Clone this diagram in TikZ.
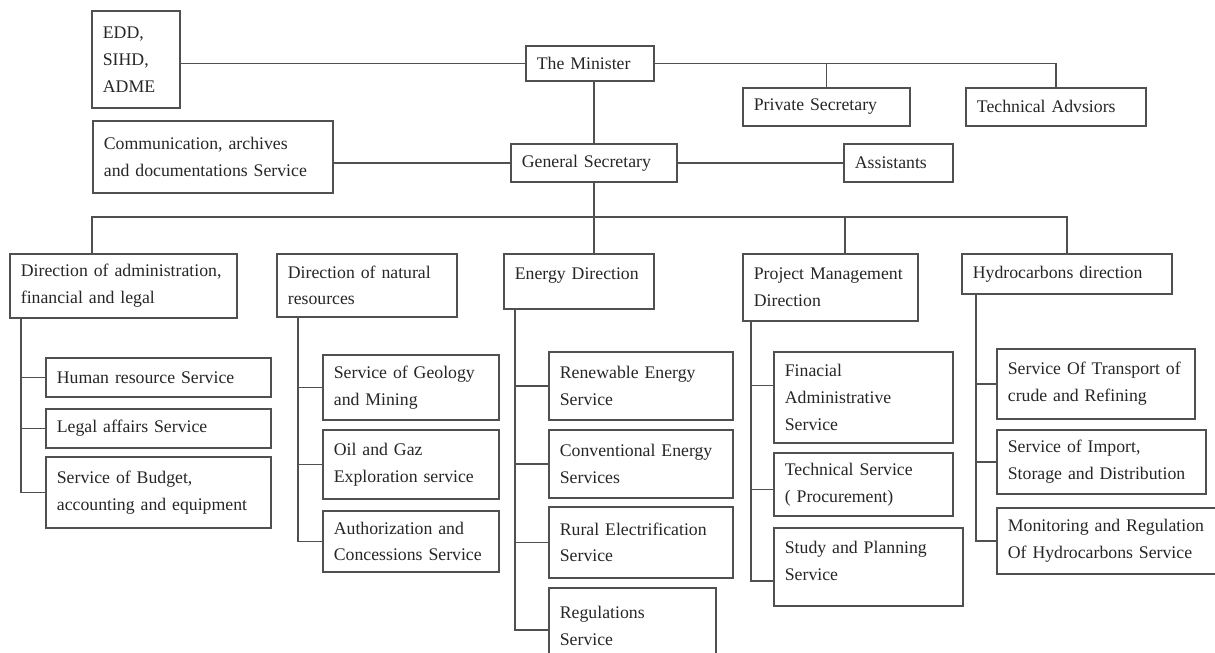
\documentclass[tikz,border=0pt]{standalone}
\usepackage{fontspec}
\setmainfont{Liberation Serif}
\usepackage{xcolor}
\definecolor{cLine}{HTML}{505050}
\definecolor{cText}{HTML}{262626}
\usetikzlibrary{calc}
\tikzset{
  org-box/.style 2 args={draw=cLine,line width=1pt,anchor=north west,
    inner xsep=0.22cm,inner ysep=0pt,align=left,text=cText,
    text width=#1*0.02cm-0.44cm,minimum height=#2*0.02cm,
    font=\fontsize{10.1}{15.3}\selectfont},
  org-line/.style={draw=cLine,line width=1pt},
}

\begin{document}
\begin{tikzpicture}[x=0.02cm,y=-0.02cm]
  \useasboundingbox (0,0) rectangle (1215,653);
  % minister and secretariat
  \node[org-box={88}{97}]   (edd)      at (91,10)   {EDD,\\SIHD,\\ADME};
  \node[org-box={128}{35}]  (minister) at (525,45)  {The Minister};
  \node[org-box={167}{38}]  (privsec)  at (742,87)  {Private Secretary};
  \node[org-box={180}{38}]  (techadv)  at (965,87)  {Technical Advsiors};
  \node[org-box={240}{72}]  (comm)     at (92,120)  {Communication, archives\\and documentations Service};
  \node[org-box={166}{38}]  (gensec)   at (510,143) {General Secretary};
  \node[org-box={109}{38}]  (assist)   at (843,143) {Assistants};
  % directions
  \node[org-box={227}{64}]  (diradm)   at (9,253)   {Direction of administration,\\financial and legal};
  \node[org-box={180}{63}]  (dirnat)   at (276,253) {Direction of natural\\resources};
  \node[org-box={150}{55}]  (direne)   at (503,253) {Energy Direction\\[-6pt]\mbox{}};
  \node[org-box={175}{67}]  (dirprj)   at (742,253) {Project Management\\Direction};
  \node[org-box={210}{40}]  (dirhyd)   at (961,253) {Hydrocarbons direction};
  % services
  \node[org-box={225}{39}]  (hr)       at (45,357)  {Human resource Service};
  \node[org-box={225}{39}]  (legal)    at (45,408)  {Legal affairs Service};
  \node[org-box={225}{71}]  (budget)   at (45,456)  {Service of Budget,\\accounting and equipment};
  \node[org-box={176}{65}]  (geo)      at (322,354) {Service of Geology\\and Mining};
  \node[org-box={176}{69}]  (oil)      at (322,429) {Oil and Gaz\\Exploration service};
  \node[org-box={176}{61}]  (auth)     at (322,510) {Authorization and\\Concessions Service};
  \node[org-box={184}{68}]  (renew)    at (548,351) {Renewable Energy\\Service};
  \node[org-box={184}{68}]  (conv)     at (548,429) {Conventional Energy\\Services};
  \node[org-box={184}{71}]  (rural)    at (548,506) {Rural Electrification\\Service};
  \node[org-box={167}{76}]  (regul)    at (548,587) {Regulations\\Service};
  \node[org-box={179}{91}]  (finac)    at (773,351) {Finacial\\Administrative\\Service};
  \node[org-box={179}{63}]  (tech)     at (773,452) {Technical Service\\( Procurement)};
  \node[org-box={189}{78}]  (study)    at (773,527) {Study and Planning\\Service\\[-8pt]\mbox{}};
  \node[org-box={198}{70}]  (trans)    at (996,348) {Service Of Transport of\\crude and Refining};
  \node[org-box={209}{64}]  (import)   at (996,429) {Service of Import,\\Storage and Distribution};
  \node[org-box={225}{66}]  (monit)    at (996,507) {Monitoring and Regulation\\Of Hydrocarbons Service};

  % upper links
  \draw[org-line] (minister.west) -- (minister.west -| edd.east);
  \draw[org-line] (minister.east) -| (techadv.north);
  \draw[org-line] (privsec.north) -- (privsec.north |- minister.east);
  \draw[org-line] (gensec.north) -- (gensec.north |- minister.south);
  \draw[org-line] (gensec.west) -- (gensec.west -| comm.east);
  \draw[org-line] (gensec.east) -- (assist.west);
  % bus to the directions
  \coordinate (bus) at (0,217);
  \coordinate (dAdm) at ($(diradm.north west)+(83,0)$);
  \coordinate (dPrj) at ($(dirprj.north west)+(103,0)$);
  \draw[org-line] (dAdm) |- (bus -| dirhyd.north) -- (dirhyd.north);
  \draw[org-line] (gensec.south) -- (gensec.south |- direne.north);
  \draw[org-line] (dPrj) -- (dPrj |- bus);
  % spines down to the services
  \coordinate (sAdm) at ($(diradm.south west)+(12,0)$);
  \coordinate (sNat) at ($(dirnat.south west)+(22,0)$);
  \coordinate (sEne) at ($(direne.south west)+(12,0)$);
  \coordinate (sPrj) at ($(dirprj.south west)+(9,0)$);
  \coordinate (sHyd) at ($(dirhyd.south west)+(15,0)$);
  \draw[org-line] (sAdm) |- (budget.west);
  \foreach \s in {hr,legal} \draw[org-line] (\s.west) -- (\s.west -| sAdm);
  \draw[org-line] (sNat) |- (auth.west);
  \foreach \s in {geo,oil} \draw[org-line] (\s.west) -- (\s.west -| sNat);
  \draw[org-line] (sEne) |- ([yshift=-0.08cm]regul.west);
  \foreach \s in {renew,conv,rural} \draw[org-line] (\s.west) -- (\s.west -| sEne);
  \draw[org-line] (sPrj) |- ([yshift=-0.28cm]study.west);
  \draw[org-line] ([yshift=0.24cm]finac.west) -- ([yshift=0.24cm]finac.west -| sPrj);
  \draw[org-line] ([yshift=-0.1cm]tech.west) -- ([yshift=-0.1cm]tech.west -| sPrj);
  \draw[org-line] (sHyd) |- (monit.west);
  \foreach \s in {trans,import} \draw[org-line] (\s.west) -- (\s.west -| sHyd);
\end{tikzpicture}
\end{document}
